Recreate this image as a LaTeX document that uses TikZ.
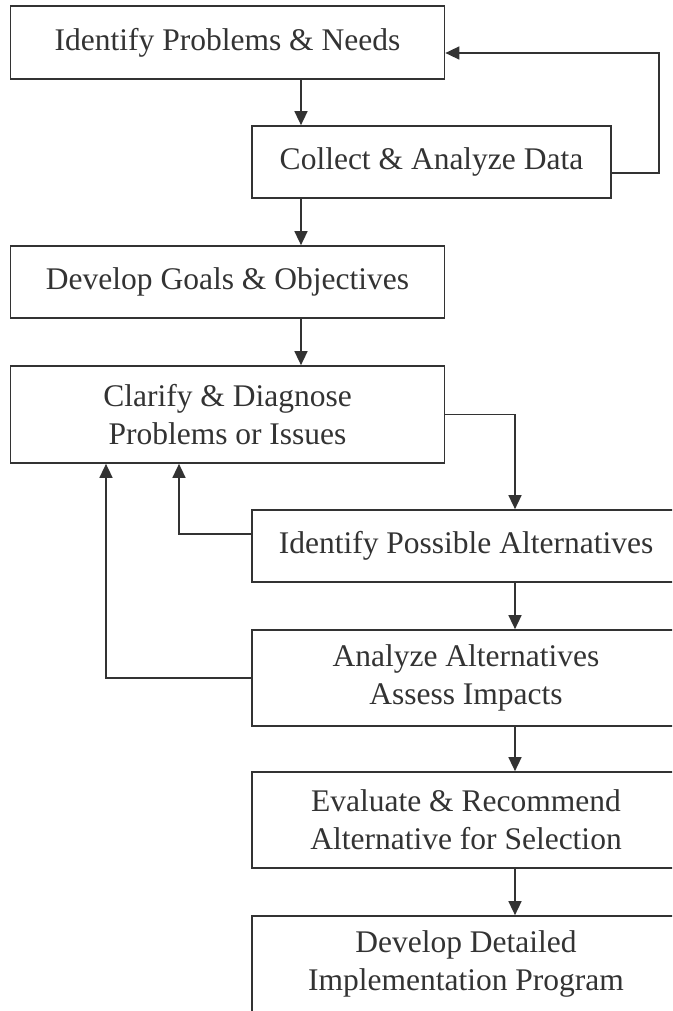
\documentclass[tikz,border=0pt]{standalone}
\usepackage{fontspec}
\setmainfont{Liberation Serif}
\usetikzlibrary{arrows.meta}
\definecolor{ink}{gray}{0.2}
\tikzset{
  box/.style={draw=ink, line width=1.7pt, rectangle, align=center, text=ink,
    font=\fontsize{31.5}{38}\selectfont, inner sep=0pt},
  arr/.style={draw=ink, line width=1.5pt, -{Triangle[length=14pt,width=13pt]}}
}
\begin{document}
\begin{tikzpicture}[x=1pt,y=-1pt]
\useasboundingbox (0,0) rectangle (672,1011);
\clip (0,0) rectangle (672,1011);
\fill[white] (0,0) rectangle (672,1011);
\node[box, minimum width=434pt, minimum height=73pt] (b1) at (227.5,42.5) {Identify Problems \& Needs};
\node[box, minimum width=359pt, minimum height=72pt] (b2) at (431.5,162) {Collect \& Analyze Data};
\node[box, minimum width=434pt, minimum height=72pt] (b3) at (227.5,282) {Develop Goals \& Objectives};
\node[box, minimum width=434pt, minimum height=97pt] (b4) at (227.5,414.5) {Clarify \& Diagnose\\Problems or Issues};
\node[box, minimum width=428pt, minimum height=72pt] (b5) at (466,546) {Identify Possible Alternatives};
\node[box, minimum width=428pt, minimum height=96pt] (b6) at (466,678) {Analyze Alternatives\\Assess Impacts};
\node[box, minimum width=428pt, minimum height=96pt] (b7) at (466,820) {Evaluate \& Recommend\\Alternative for Selection};
\node[box, minimum width=428pt, minimum height=96pt] (b8) at (466,964) {Develop Detailed\\Implementation Program};
\coordinate (cx1) at (301,0);
\coordinate (cx2) at (515,0);
\coordinate (fr) at (659,0);
\coordinate (fa) at (179,0);
\coordinate (fb) at (106,0);
\draw[arr] (b1.south -| cx1) -- (b2.north -| cx1);
\draw[arr] (b2.south -| cx1) -- (b3.north -| cx1);
\draw[arr] (b3.south -| cx1) -- (b4.north -| cx1);
\draw[arr] (b2.east |- 0,173) -| (fr |- 0,53) -- (b1.east |- 0,53);
\draw[arr] (b4.east) -| (b5.north -| cx2);
\draw[arr] (b5.south -| cx2) -- (b6.north -| cx2);
\draw[arr] (b6.south -| cx2) -- (b7.north -| cx2);
\draw[arr] (b7.south -| cx2) -- (b8.north -| cx2);
\draw[arr] (b5.west |- 0,534) -| (b4.south -| fa);
\draw[arr] (b6.west) -| (b4.south -| fb);
\end{tikzpicture}
\end{document}
